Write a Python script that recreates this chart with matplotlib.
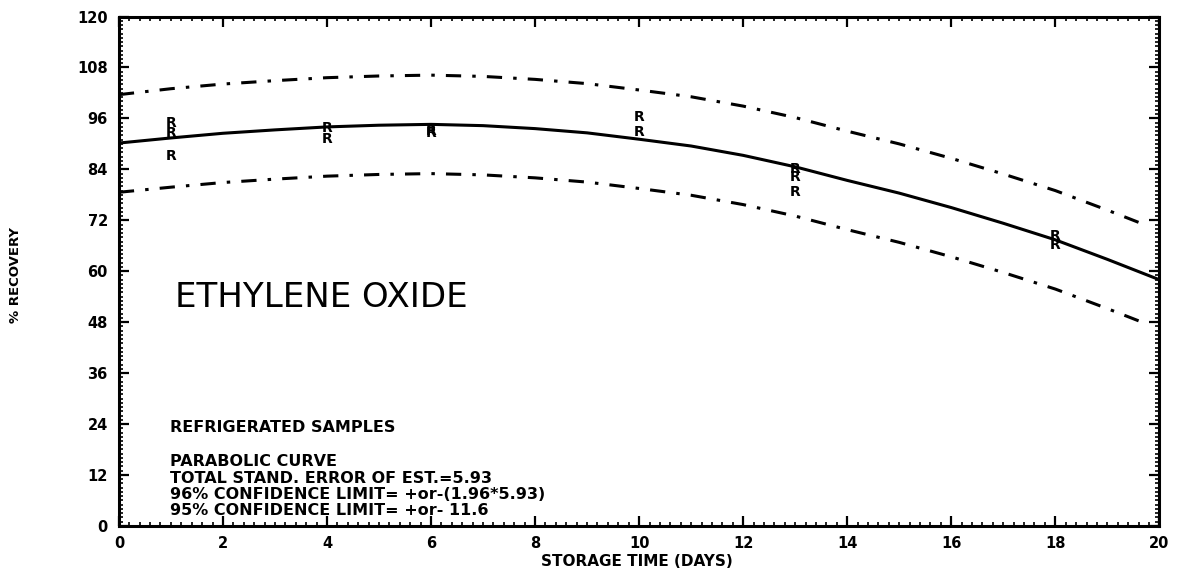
import matplotlib
matplotlib.use("Agg")
import matplotlib.pyplot as plt
from matplotlib.ticker import MultipleLocator

# Values
days = [0, 1, 2, 3, 4, 5, 6, 7, 8, 9, 10, 11, 12, 13, 14, 15, 16, 17, 18, 19, 20]
fit = [90.2, 91.4, 92.5, 93.3, 94.0, 94.4, 94.6, 94.3, 93.6, 92.6, 91.1,
       89.5, 87.3, 84.6, 81.4, 78.4, 75.0, 71.3, 67.4, 62.8, 58.0]

band_days = [0, 1, 2, 3, 4, 5, 6, 7, 8, 9, 10, 11, 12, 13, 14, 15, 16, 17, 18, 19, 19.75]
upper = [101.6, 103.0, 104.1, 104.9, 105.6, 106.0, 106.2, 105.9, 105.2, 104.2, 102.7,
         101.1, 98.9, 96.2, 93.0, 90.0, 86.6, 82.9, 79.0, 74.4, 70.8]
lower = [78.6, 79.8, 80.9, 81.7, 82.4, 82.8, 83.0, 82.7, 82.0, 81.0, 79.5,
         77.9, 75.7, 73.0, 69.8, 66.8, 63.4, 59.7, 55.8, 51.2, 47.6]

# sample points, plotted as the letter R
r_days = [1, 1, 1, 4, 4, 6, 6, 10, 10, 13, 13, 13, 18, 18]
r_values = [94.9, 92.6, 87.1, 93.8, 91.2, 93.0, 92.5, 96.3, 92.8, 84.0, 82.3, 78.6, 68.3, 66.2]

x_ticks = list(range(0, 21, 2))
y_ticks = list(range(0, 121, 12))

title = "ETHYLENE OXIDE"
notes = ["REFRIGERATED SAMPLES",
         "",
         "PARABOLIC CURVE",
         "TOTAL STAND. ERROR OF EST.=5.93",
         "96% CONFIDENCE LIMIT= +or-(1.96*5.93)",
         "95% CONFIDENCE LIMIT= +or- 11.6"]

plt.rcParams["lines.scale_dashes"] = False

fig = plt.figure(figsize=(11.77, 5.71), dpi=100)
ax = fig.add_axes([0.101, 0.079, 0.884, 0.892])

ax.plot(days, fit, color="black", lw=2.2, solid_capstyle="round")
dash_dot = (0, (11, 8, 2.5, 8))
ax.plot(band_days, upper, color="black", lw=2.2, linestyle=dash_dot)
ax.plot(band_days, lower, color="black", lw=2.2, linestyle=dash_dot)

for d, v in zip(r_days, r_values):
    ax.text(d, v, "R", ha="center", va="center", fontsize=10,
            fontweight="bold", color="black")

ax.set_xlim(0, 20)
ax.set_ylim(0, 120)
ax.set_xticks(x_ticks)
ax.set_yticks(y_ticks)
ax.xaxis.set_minor_locator(MultipleLocator(0.2))
ax.yaxis.set_minor_locator(MultipleLocator(1))
ax.tick_params(which="both", direction="in", top=True, right=True, color="black")
ax.tick_params(which="major", length=7, width=1.6, labelsize=10.5)
ax.tick_params(which="minor", length=3.2, width=1.2)
ax.tick_params(axis="x", which="major", pad=7)
ax.tick_params(axis="y", which="major", pad=8)
for lab in ax.get_xticklabels() + ax.get_yticklabels():
    lab.set_fontweight("bold")
for sp in ax.spines.values():
    sp.set_linewidth(2.2)

ax.text(0.054, 0.449, title, transform=ax.transAxes, fontsize=24.5,
        ha="left", va="center")

line_y = [0.193, 0.160, 0.126, 0.094, 0.062, 0.030]
for txt, yy in zip(notes, line_y):
    if txt:
        ax.text(0.049, yy, txt, transform=ax.transAxes, fontsize=11.5,
                fontweight="bold", ha="left", va="center")

fig.text(0.541, 0.016, "STORAGE TIME (DAYS)", ha="center", va="center",
         fontsize=11, fontweight="bold")
fig.text(0.013, 0.518, "% RECOVERY", ha="center", va="center", rotation=90,
         fontsize=9.5, fontweight="bold")

fig.savefig("out.png", dpi=100, facecolor="white")
